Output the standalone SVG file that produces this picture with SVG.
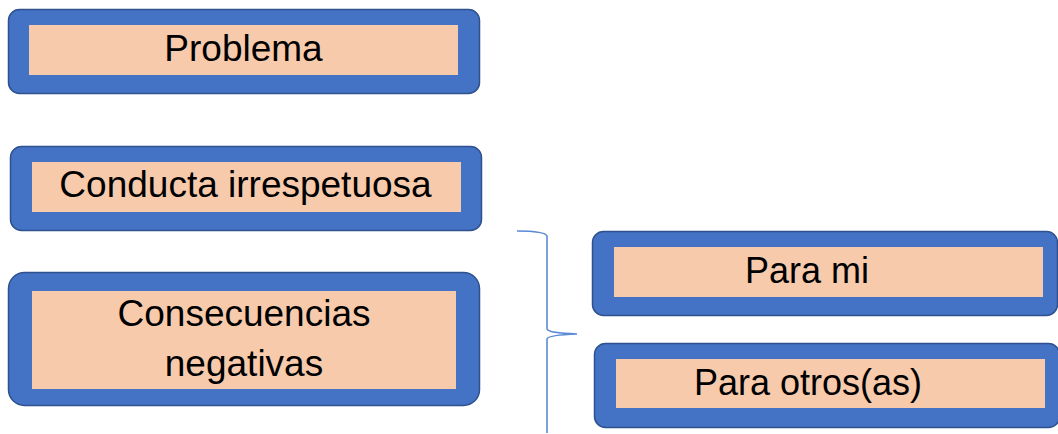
<svg xmlns="http://www.w3.org/2000/svg" width="1058" height="434" viewBox="0 0 1058 434">
<style>
.outer{fill:#4472C4;stroke:#2F528F;stroke-width:1.5}
.inner{fill:#F7CAAC}
.lbl{font-family:"Liberation Sans",Arial,sans-serif;font-size:36px;fill:#000;text-anchor:middle}
.big{font-size:37px}
.brace{fill:none;stroke:#5B8AD6;stroke-width:1.6}
</style>
<rect width="1058" height="434" fill="#fff"/>
<g id="problema">
<rect class="outer" x="8.5" y="9.5" width="471" height="84" rx="11"/>
<rect class="inner" x="29" y="25" width="429" height="50"/>
<text class="lbl big" x="243.5" y="61">Problema</text>
</g>
<g id="conducta">
<rect class="outer" x="10.5" y="146.5" width="471" height="84" rx="11"/>
<rect class="inner" x="32" y="162" width="429" height="50"/>
<text class="lbl big" x="245.5" y="197">Conducta irrespetuosa</text>
</g>
<g id="consecuencias">
<rect class="outer" x="8.5" y="272.5" width="471" height="133" rx="16"/>
<rect class="inner" x="32" y="291" width="424" height="98"/>
<text class="lbl big" x="244" y="326">Consecuencias</text>
<text class="lbl big" x="244" y="376">negativas</text>
</g>
<g id="para-mi">
<rect class="outer" x="592.5" y="231.5" width="465" height="84" rx="11"/>
<rect class="inner" x="614" y="247" width="429" height="50"/>
<text class="lbl" x="807" y="283">Para mi</text>
</g>
<g id="para-otros">
<rect class="outer" x="594.5" y="343.5" width="465" height="84" rx="11"/>
<rect class="inner" x="616" y="359" width="429" height="49"/>
<text class="lbl" x="808" y="395">Para otros(as)</text>
</g>
<g id="connectors">
<path class="brace" d="M517,231 Q545,231 547,236 L547,329 Q548,333 577,334 Q548,335 547,339 L547,433"/>
</g>
</svg>
